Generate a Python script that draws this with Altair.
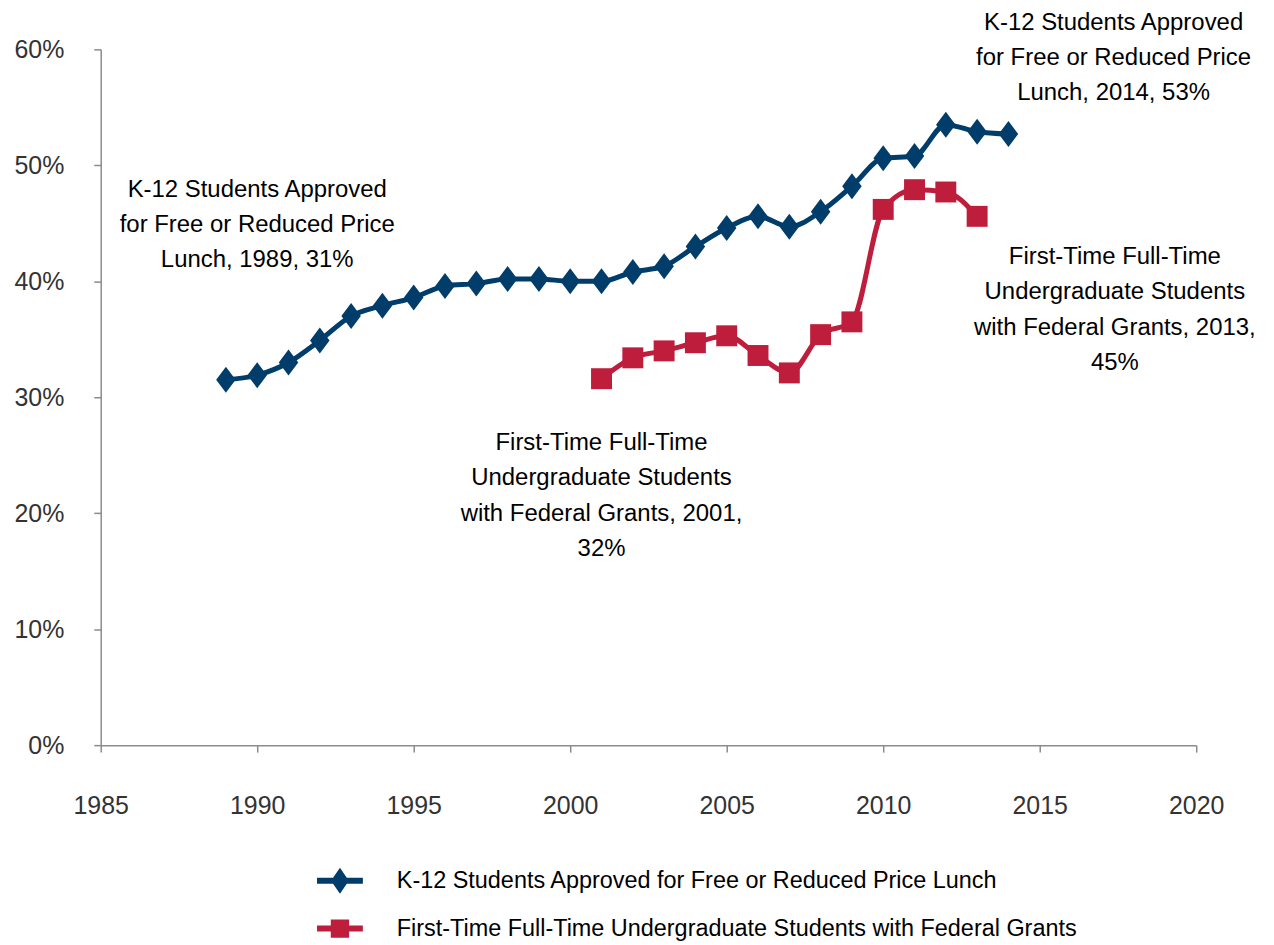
import altair as alt
import pandas as pd

k12_years = list(range(1989, 2015))
k12_values = [0.315, 0.319, 0.330, 0.349, 0.370, 0.379, 0.386, 0.396, 0.398, 0.402,
              0.402, 0.400, 0.400, 0.408, 0.413, 0.430, 0.446, 0.456, 0.447, 0.460,
              0.482, 0.506, 0.508, 0.535, 0.529, 0.527]
grant_years = list(range(2001, 2014))
grant_values = [0.316, 0.334, 0.340, 0.347, 0.353, 0.336, 0.321, 0.354, 0.365,
                0.462, 0.479, 0.477, 0.456]

series_names = ["K-12 Students Approved for Free or Reduced Price Lunch",
                "First-Time Full-Time Undergraduate Students with Federal Grants"]
colors = ["#003d6b", "#be1e3c"]

ann_text = [
    ["K-12 Students Approved", "for Free or Reduced Price", "Lunch, 1989, 31%"],
    ["K-12 Students Approved", "for Free or Reduced Price", "Lunch, 2014, 53%"],
    ["First-Time Full-Time", "Undergraduate Students", "with Federal Grants, 2013,", "45%"],
    ["First-Time Full-Time", "Undergraduate Students", "with Federal Grants, 2001,", "32%"],
]
ann_x = [1990.0, 2017.36, 2017.4, 2001.0]
ann_y = [0.479, 0.623, 0.421, 0.2605]

k12 = pd.DataFrame({"year": k12_years, "value": k12_values})
grants = pd.DataFrame({"year": grant_years, "value": grant_values})
ann = pd.DataFrame({"x": ann_x, "y": ann_y, "text": ann_text})
leg = pd.DataFrame({"year": [1990, 1990], "value": [0.3, 0.3], "legend": series_names})

FONT_N = "Liberation Sans Narrow, Arial Narrow, Liberation Sans, sans-serif"

xs = alt.X("year:Q", scale=alt.Scale(domain=[1985, 2020], nice=False, zero=False),
           axis=alt.Axis(values=list(range(1985, 2021, 5)), format="d", title=None,
                         grid=False, labelFont=FONT_N, labelFontSize=25, labelFlush=False,
                         labelPadding=42, tickSize=7, labelColor="#333333"))
ys = alt.Y("value:Q", scale=alt.Scale(domain=[0, 0.6], nice=False),
           axis=alt.Axis(values=[0, 0.1, 0.2, 0.3, 0.4, 0.5, 0.6], format=".0%", title=None,
                         grid=False, labelFont="Liberation Sans, Arial, sans-serif",
                         labelFontSize=25, labelPadding=30, tickSize=7, labelFlush=False,
                         labelColor="#333333"))

diamond = "M0,-1 L0.75,0 L0,1 L-0.75,0 Z"
leg_diamond = ("M-1,-0.13 L-0.3,-0.13 L0,-0.57 L0.3,-0.13 L1,-0.13 L1,0.13 "
               "L0.3,0.13 L0,0.57 L-0.3,0.13 L-1,0.13 Z")
leg_square = ("M-1,-0.13 L-0.4,-0.13 L-0.4,-0.4 L0.4,-0.4 L0.4,-0.13 L1,-0.13 "
              "L1,0.13 L0.4,0.13 L0.4,0.4 L-0.4,0.4 L-0.4,0.13 L-1,0.13 Z")

k12_line = alt.Chart(k12).mark_line(color=colors[0], strokeWidth=5,
                                    interpolate="monotone").encode(x=xs, y=ys)
k12_pts = alt.Chart(k12).mark_point(shape=diamond, filled=True, opacity=1,
                                    color=colors[0], size=680).encode(x="year:Q", y="value:Q")
gr_line = alt.Chart(grants).mark_line(color=colors[1], strokeWidth=5,
                                      interpolate="monotone").encode(x="year:Q", y="value:Q")
gr_pts = alt.Chart(grants).mark_square(filled=True, opacity=1, color=colors[1],
                                       size=441).encode(x="year:Q", y="value:Q")

labels = alt.Chart(ann).mark_text(font=FONT_N, fontSize=24, lineHeight=35.5,
                                  align="center", baseline="middle", color="#000000").encode(
    x="x:Q", y="y:Q", text="text")

leg_props = dict(title=None, orient="none", legendX=217, legendY=811,
                 labelFont=FONT_N, labelFontSize=23.5, labelColor="#000000",
                 labelOffset=34, labelLimit=1000, symbolSize=2116,
                 symbolOpacity=1, symbolStrokeWidth=0, rowPadding=11, padding=0)

legend_layer = alt.Chart(leg).mark_point(filled=True, opacity=0).encode(
    x="year:Q", y="value:Q",
    color=alt.Color("legend:N", scale=alt.Scale(domain=series_names, range=colors),
                    legend=alt.Legend(**leg_props)),
    shape=alt.Shape("legend:N", scale=alt.Scale(domain=series_names,
                                                 range=[leg_diamond, leg_square]),
                    legend=alt.Legend(**leg_props)),
)

chart = alt.layer(k12_line, gr_line, k12_pts, gr_pts, labels, legend_layer).properties(
    width=1099, height=698,
    autosize=alt.AutoSizeParams(type="none"),
    padding={"left": 93, "top": 40, "right": 70, "bottom": 199},
).configure_view(stroke=None).configure_axis(
    domainColor="#8c8c8c", tickColor="#8c8c8c", domainWidth=1.5, tickWidth=1.5
)

chart.save("out.html", embed_options={"renderer": "svg", "actions": False})
